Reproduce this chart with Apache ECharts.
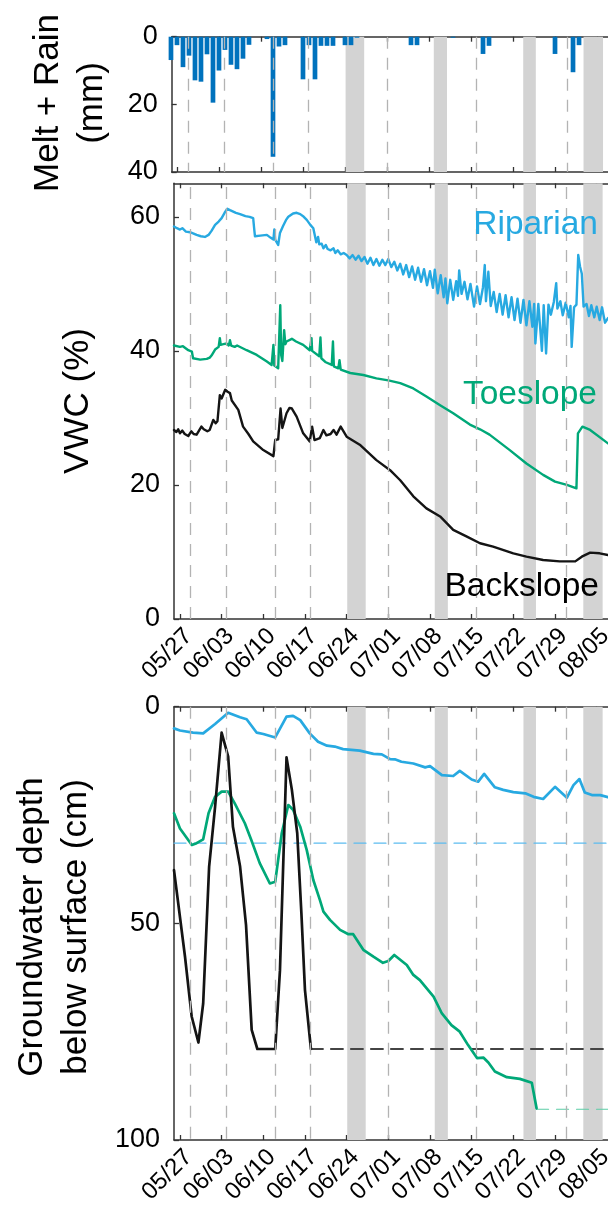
<!DOCTYPE html>
<html><head><meta charset="utf-8">
<script src="https://cdn.jsdelivr.net/npm/echarts@6/dist/echarts.min.js"></script>
<style>html,body{margin:0;padding:0;background:#fff}#c{width:608px;height:1210px}</style>
</head><body><div id="c"></div>
<script>
// ---- x ticks (days since 05/26 00:00) ----
const tickDays = [1, 8, 15, 22, 29, 36, 43, 50, 57, 64, 71];
const tickLabels = ['05/27','06/03','06/10','06/17','06/24','07/01','07/08','07/15','07/22','07/29','08/05'];

// gray shaded periods and dashed sampling lines (days since 05/26)
const bandStarts = [29.1, 43.8, 58.7, 68.75];
const bandEnds   = [32.2, 46.0, 60.8, 72.0];
const dashedDays = [2.8, 8.85, 16.97, 22.85, 36.0, 50.85, 65.97];

// ---- Melt + Rain (mm), daily ----
const meltRainDays = [0,1,2,3,4,5,6,7,8,9,10,11,12,13,16,17,18,19,22,23,24,25,26,27,29,30,31,40,41,47,52,53,64,67,68];
const meltRainMM   = [6.9,2.5,9.0,5.6,12.9,13.3,5.2,19.5,10.0,3.9,8.3,9.6,6.5,2.4,0.7,35.5,2.9,2.5,12.6,2.5,12.6,2.7,2.7,2.7,2.5,2.5,0.3,2.5,2.5,0.3,5.1,2.7,5.1,10.5,2.5];

// ---- VWC (%) [day, value] ----
const riparianVWC = [[0,58.55],[0.5,58.3],[1,58.1],[1.4,58.3],[2,57.8],[2.7,57.7],[3.3,57.5],[3.8,57.3],[4.5,57.1],[5.2,57.0],[5.8,57.3],[6.3,57.9],[6.9,58.8],[7.5,59.3],[8.0,59.8],[8.5,60.6],[8.96,61.2],[9.4,61.0],[9.7,61.0],[10.4,60.6],[11.1,60.4],[12.0,60.1],[12.7,60.0],[13.3,59.8],[13.45,58.4],[13.6,57.1],[14.5,57.2],[15.6,57.3],[16.2,56.9],[16.7,56.6],[16.85,58.1],[17.0,56.6],[17.5,55.8],[17.8,57.6],[18.3,58.6],[18.8,59.5],[19.2,60.0],[20.0,60.5],[20.6,60.6],[21.2,60.4],[21.8,60.0],[22.3,59.55],[22.9,58.8],[23.4,58.3],[23.9,56.2],[24.2,57.0],[24.4,55.9],[24.8,56.0],[25.1,55.3],[25.5,55.8],[25.8,55.2],[26.3,55.0],[26.8,55.3],[27.1,54.6],[27.5,55.0],[28.0,54.4],[28.5,54.6],
[29.0,54.3],[29.5,53.8],[30.0,54.3],[30.5,53.6],[31.0,54.2],[31.5,53.4],[32.0,54.0],[32.5,53.0],[33.0,53.9],[33.5,52.8],[34.0,53.7],[34.5,52.7],[35.0,53.6],[35.5,52.8],[36.0,53.7],[36.5,52.5],[37.0,53.3],[37.5,52.0],[38.0,53.0],[38.5,51.4],[39.0,52.8],[39.5,51.0],[40.0,52.6],[40.5,50.6],[41.0,52.4],[41.5,50.3],[42.0,52.2],[42.5,49.8],[43.0,51.9],[43.5,49.4],[43.8,52.1],[44.3,48.6],[44.8,51.3],[45.3,48.0],[45.6,50.8],[45.9,47.1],[46.4,50.6],[46.9,47.6],[47.4,50.4],[47.7,48.2],[47.9,52.0],[48.3,48.5],[48.8,50.3],[49.3,47.7],[49.8,50.0],[50.4,46.6],[50.9,49.6],[51.4,47.0],[51.9,49.5],[52.2,52.8],[52.4,47.4],[52.8,51.8],[53.2,46.7],[53.7,48.8],[54.2,45.8],[54.7,48.5],[55.2,45.4],[55.7,48.3],[56.2,45.0],[56.7,48.0],[57.2,44.6],[57.7,47.8],[58.2,44.2],[58.7,47.6],[59.2,43.8],[59.7,47.4],[60.2,43.6],[60.5,47.0],[60.7,41.1],[61.2,47.0],[61.8,40.0],[62.1,46.8],[62.5,39.6],[62.9,46.9],[63.3,45.4],[63.8,47.3],[64.2,50.1],[64.4,46.3],[64.9,47.4],[65.3,45.3],[65.8,47.2],[66.3,45.0],[66.6,46.7],[66.8,40.6],[67.2,46.5],[67.6,46.9],[67.9,54.3],[68.2,52.6],[68.5,51.5],[68.8,46.6],[69.3,47.0],[69.7,45.2],[70.1,46.8],[70.6,45.0],[71.0,46.6],[71.5,44.6],[71.9,46.5],[72.4,44.2],[72.9,44.9]];

const toeslopeVWC = [[0,40.8],[1,40.6],[1.5,40.7],[2.4,40.1],[3,39.9],[3.2,38.9],[4.4,38.7],[5.5,38.8],[6.0,39.0],[6.3,39.3],[6.9,40.2],[7.5,40.6],[7.7,41.9],[7.85,40.9],[8.3,41.0],[8.85,41.1],[9.2,40.8],[9.4,41.6],[9.6,40.8],[10.2,40.6],[10.6,40.8],[12.2,40.1],[13.9,39.4],[15.6,38.4],[16.4,37.9],[16.6,37.9],[16.7,40.9],[16.85,37.8],[17.5,37.4],[17.75,37.2],[17.85,46.8],[18.0,39.4],[18.2,38.5],[18.5,43.1],[18.7,41.0],[18.9,41.4],[19.8,41.8],[20.5,41.4],[21.7,40.9],[22.8,40.1],[23.0,40.0],[23.1,41.9],[23.2,40.0],[24.4,39.2],[24.6,42.0],[24.75,38.9],[25.5,38.3],[26.5,37.9],[26.7,41.4],[26.85,37.7],[27.6,37.4],[27.8,38.6],[28.0,37.2],[29.6,36.7],[31.8,36.4],[34,35.9],[36,35.6],[38,35.2],[40.2,34.4],[42.4,33.2],[44.7,31.9],[46.9,30.7],[49.7,29.0],[51.4,28.3],[52.0,28.0],[52.3,28.1],[53.0,27.5],[56.4,25.2],[59.2,23.2],[62,21.5],[64,20.5],[66,20.0],[67.6,19.5],[67.85,27.7],[68.6,28.7],[69.9,28.2],[72.9,26.2]];

const backslopeVWC = [[0,28.2],[0.4,27.9],[0.7,28.3],[1.0,27.7],[1.4,28.1],[1.8,27.6],[2.4,27.3],[2.9,28.0],[3.3,27.6],[3.8,27.5],[4.2,28.1],[4.6,28.7],[5.0,28.3],[5.6,28.0],[6.0,28.2],[6.6,29.7],[7.0,29.2],[7.3,29.5],[7.7,33.4],[8.0,32.9],[8.6,34.2],[9.0,33.9],[9.4,33.7],[9.7,32.6],[10.0,32.4],[10.8,31.2],[11.6,28.7],[12.5,27.6],[13.3,26.5],[15,25.2],[16.7,24.3],[17.0,26.7],[17.5,26.8],[17.9,31.4],[18.2,28.5],[18.9,30.7],[19.4,31.5],[19.8,31.4],[20.6,30.2],[21.7,27.7],[22.8,26.5],[23.2,28.7],[23.6,26.7],[24.5,27.0],[25.1,28.2],[25.6,27.4],[26.3,27.6],[26.8,28.2],[27.3,27.5],[28.0,28.7],[29.0,27.2],[31.2,26.0],[34,23.7],[36.3,22.2],[38,20.7],[40.2,18.3],[42.4,16.5],[44.7,15.3],[46.9,13.3],[49.2,12.3],[51.4,11.3],[53.6,10.8],[57,9.8],[59.2,9.3],[62,8.8],[64.8,8.6],[67.4,8.6],[68.5,9.3],[69.9,9.9],[71.5,9.8],[72.9,9.55]];

// ---- Groundwater depth (cm) [day, depth] ----
const riparianGW = [[0,5.0],[1,5.5],[3.2,6.0],[4.9,6.15],[6.9,4.0],[9.1,1.4],[11.1,2.45],[12.2,2.9],[13.9,6.0],[15,6.3],[17,7.1],[18.9,2.3],[20,2.1],[21.2,3.1],[22.8,6.15],[24.2,8.1],[25.7,9.0],[27,9.2],[28.4,9.8],[31.2,10.15],[33.5,10.9],[34.9,11.0],[36.3,12.1],[37.1,12.15],[38.2,12.7],[40.2,13.1],[42.2,14.0],[43,13.7],[45,15.8],[46.9,16.0],[48,14.8],[50,16.8],[51.1,17.3],[52.1,15.5],[53.9,18.6],[55.3,19.2],[57,19.7],[59,20.0],[60.4,20.8],[62,21.3],[64,18.5],[66,21.0],[67.1,18.1],[68.1,16.7],[69,19.8],[70.2,20.4],[71.6,20.4],[72.9,20.9]];
const toeslopeGW = [[0,24.6],[1,28.1],[3,31.9],[3.8,31.5],[4.9,30.6],[5.8,24.6],[6.9,20.8],[8,19.6],[9.1,19.6],[10.2,22.3],[11.9,26.9],[13,30.8],[14.4,36.1],[16.1,40.8],[17,40.4],[18.1,29.2],[19.2,22.7],[20,23.8],[21.2,27.7],[22.3,33.1],[23.4,40],[24.5,44.6],[25.1,47.3],[26.2,49.2],[27.9,51.5],[29.3,52.5],[30.1,52.5],[31.8,56.1],[33.5,57.7],[35.1,59.1],[36,58.7],[37,57.3],[39.1,59.6],[40.2,61.9],[41.3,63.1],[43.6,66.9],[45,70.8],[46.6,73.5],[48,75],[49.4,78.1],[50.9,81.1],[52,81],[52.8,82.1],[53.9,84.2],[55.9,85.5],[58.1,85.9],[60.1,86.8],[60.9,92.7]];
const backslopeGW = [[0,37.7],[1.85,57.7],[2.97,71.5],[4.1,77.5],[4.9,68.5],[5.9,36.9],[6.9,23.1],[8.0,6.0],[9.1,11.5],[9.9,27.7],[11.1,36.9],[12.1,50.4],[13.05,74.6],[14.0,79],[17.0,79],[17.8,60.8],[18.9,11.7],[19.8,19.2],[20.7,29.2],[21.4,47.7],[22.0,65.4],[23.0,79.0]];
// sensor-depth / dry reference lines (dashed)
const riparianGWRef = [[0,31.5],[72.9,31.5]];
const toeslopeGWRef = [[60.9,92.9],[72.9,92.9]];
const backslopeGWRef = [[23.0,79.0],[72.9,79.0]];

// ---------------------------------------------------------------
const FONT = "'Liberation Sans', Arial, Helvetica, sans-serif";
const C_RIP = '#27a9e1', C_TOE = '#00a878', C_BACK = '#141414';
const AX = '#333333';

function lbl(v){ const i = tickDays.indexOf(Math.round(v)); return i >= 0 ? tickLabels[i] : ''; }

function xAx(grid, min, max, showLabels, pos){
  return {
    type:'value', gridIndex:grid, min:min, max:max, position:pos,
    axisLine:{show:true, onZero:false, lineStyle:{color:AX, width:1.5}},
    axisTick:{show:true, inside:true, length:5, customValues:tickDays, lineStyle:{color:AX, width:1.3}},
    axisLabel:{show:showLabels, customValues:tickDays, formatter:lbl, rotate:45, margin:5,
               verticalAlign:'top', fontSize:24, color:'#000', fontFamily:FONT},
    splitLine:{show:false}
  };
}
function yAx(grid, min, max, ticks, inverse){
  return {
    type:'value', gridIndex:grid, min:min, max:max, inverse:inverse,
    axisLine:{show:true, lineStyle:{color:AX, width:1.5}},
    axisTick:{show:true, inside:true, length:5, customValues:ticks, lineStyle:{color:AX, width:1.3}},
    axisLabel:{customValues:ticks, margin:14, fontSize:27, color:'#000', fontFamily:FONT},
    splitLine:{show:false}
  };
}
function bgSeries(xi, yi){
  return {
    type:'line', xAxisIndex:xi, yAxisIndex:yi, data:[], z:1, silent:true,
    markArea:{silent:true, itemStyle:{color:'#d3d3d3'},
      data: bandStarts.map((s,i)=>[{xAxis:s},{xAxis:bandEnds[i]}])},
    markLine:{silent:true, symbol:['none','none'], label:{show:false},
      lineStyle:{color:'#b3b3b3', width:1.3, type:[12,9]},
      data: dashedDays.map(d=>({xAxis:d}))}
  };
}
function lineS(xi, yi, data, color, width, dash){
  return {type:'line', xAxisIndex:xi, yAxisIndex:yi, data:data, showSymbol:false, symbol:'none',
    z:3, silent:true, clip:true,
    lineStyle:{color:color, width:width, type:dash||'solid', join:'round', cap:'round'}};
}
function txt(x, y, text, size, color, align, rot){
  return {type:'text', x:x, y:y, z:100, zlevel:0, rotation:rot||0,
    style:{text:text, fontSize:size, fontFamily:FONT, fill:color, align:align, verticalAlign:'middle'}};
}

const option = {
  animation:false,
  textStyle:{fontFamily:FONT},
  grid:[
    {left:171.7, top:36.7, width:436.3, height:135.3, outerBoundsMode:'none'},
    {left:174, top:183.3, width:434, height:435.7, outerBoundsMode:'none'},
    {left:174, top:706.7, width:434, height:433.3, outerBoundsMode:'none'}
  ],
  xAxis:[
    xAx(0, 0.12, 72.83, false, 'bottom'), xAx(0, 0.12, 72.83, false, 'top'),
    xAx(1, 0, 72.9, true, 'bottom'),      xAx(1, 0, 72.9, false, 'top'),
    xAx(2, 0, 72.9, true, 'bottom'),      xAx(2, 0, 72.9, false, 'top')
  ],
  yAxis:[
    yAx(0, 0, 40, [0,20,40], true),
    yAx(1, 0, 65, [0,20,40,60], false),
    yAx(2, 0, 100, [0,50,100], true)
  ],
  series:[
    bgSeries(0,0),
    {type:'bar', xAxisIndex:0, yAxisIndex:0, z:3, barWidth:4.7, silent:true,
     data: meltRainDays.map((d,i)=>[d, meltRainMM[i]]), itemStyle:{color:'#0072bd'}},
    bgSeries(2,1),
    lineS(2,1,riparianVWC, C_RIP, 2.4),
    lineS(2,1,toeslopeVWC, C_TOE, 2.4),
    lineS(2,1,backslopeVWC, C_BACK, 2.4),
    bgSeries(4,2),
    lineS(4,2,riparianGWRef, '#5cbcef', 1.2, [12,8]),
    lineS(4,2,backslopeGWRef, '#444444', 2, [12,8]),
    lineS(4,2,toeslopeGWRef, '#5ccda6', 1.2, [12,8]),
    lineS(4,2,riparianGW, C_RIP, 2.7),
    lineS(4,2,toeslopeGW, C_TOE, 2.7),
    lineS(4,2,backslopeGW, C_BACK, 2.7)
  ],
  graphic:[
    txt(48, 103, 'Melt + Rain', 35, '#000', 'center', Math.PI/2),
    txt(92, 103, '(mm)', 35, '#000', 'center', Math.PI/2),
    txt(78, 401, 'VWC (%)', 35, '#000', 'center', Math.PI/2),
    txt(32, 927, 'Groundwater depth', 35, '#000', 'center', Math.PI/2),
    txt(76, 927, 'below surface (cm)', 35, '#000', 'center', Math.PI/2),
    txt(598, 225, 'Riparian', 33.5, C_RIP, 'right'),
    txt(597, 395, 'Toeslope', 33.5, C_TOE, 'right'),
    txt(599, 586.5, 'Backslope', 33.5, '#000', 'right')
  ]
};
const chart = echarts.init(document.getElementById('c'), null, {renderer:'canvas'});
chart.setOption(option);
</script></body></html>
